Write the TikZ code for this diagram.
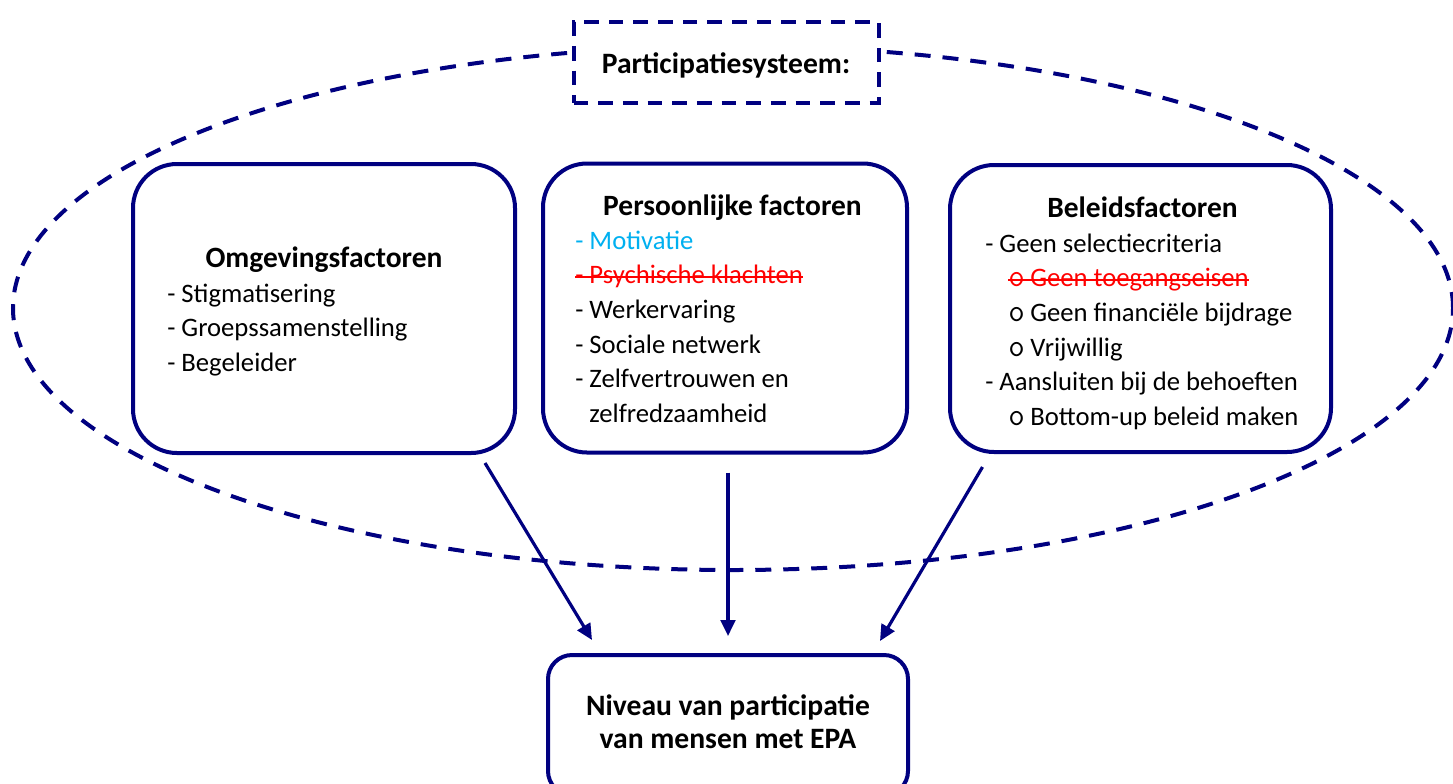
\documentclass[tikz,border=0pt]{standalone}
\usepackage{fontspec}
\setmainfont{Carlito}
\usetikzlibrary{arrows.meta,calc}
\definecolor{navy}{HTML}{000080}
\definecolor{motblue}{HTML}{00B0F0}
\definecolor{strikered}{HTML}{FF0000}
\newsavebox\strikebx
\newcommand\strikeout[1]{\sbox\strikebx{#1}\rlap{\usebox\strikebx}\raisebox{4.2pt}{\rule{\wd\strikebx}{1.3pt}}}
\newcommand\bul{\makebox[16.5pt][l]{{\fontsize{24}{26}\selectfont\ttfamily o}}}
\newcommand\sub{\hskip17.25pt}
\newcommand\itemlines[1]{\vtop{\baselineskip=26pt\lineskiplimit=-100pt #1}}
\begin{document}
\begin{tikzpicture}[x=0.75pt,y=-0.75pt,
  fbox/.style={draw=navy,line width=3pt,rounded corners=33pt,fill=white,inner sep=0pt},
  dbox/.style={draw=navy,line width=3pt,dash pattern=on 11pt off 7.5pt,fill=white,inner sep=0pt},
  ebox/.style={draw=navy,line width=3pt,rounded corners=18pt,fill=white,inner sep=0pt},
  ell/.style={draw=navy,line width=3pt,dash pattern=on 12pt off 9pt},
  arr/.style={draw=navy,line width=2.4pt,-{Triangle[length=12pt,width=11pt]}},
  body/.style={inner sep=0pt,anchor=base west,font=\fontsize{20}{26}\selectfont},
  title/.style={inner sep=0pt,anchor=base,font=\fontsize{22.1}{26}\selectfont\bfseries},
  big/.style={inner sep=0pt,anchor=base,font=\fontsize{22.2}{26}\selectfont\bfseries}]
\useasboundingbox (0,0) rectangle (1453,783);
\clip (0,0) rectangle (1453,783);
\fill[white] (0,0) rectangle (1453,783);
% outer dashed ellipse
\draw[ell] (733,308) ellipse [x radius=540pt, y radius=196.5pt];
% system label
\node[dbox,minimum width=228.75pt,minimum height=60.75pt] (sys) at (726,62) {};
\node[big] (systxt) at (726,73) {Participatiesysteem:};
% factor boxes
\node[fbox,minimum width=286.5pt,minimum height=216.75pt] (omg) at (324,308.5) {};
\node[fbox,minimum width=273pt,minimum height=216.75pt] (pers) at (725,308) {};
\node[fbox,minimum width=285.75pt,minimum height=215.25pt] (bel) at (1140.5,308.5) {};
% bottom box
\node[ebox,minimum width=270pt,minimum height=105pt] (epa) at (728,725) {};
% texts
\node[title] (omgt) at (324,267) {Omgevingsfactoren};
\node[body] (omgi) at (167,302) {\itemlines{%
  \hbox{- Stigmatisering}
  \hbox{- Groepssamenstelling}
  \hbox{- Begeleider}}};
\node[title] (perst) at (732.5,215) {Persoonlijke factoren};
\node[body] (persi) at (575,249) {\itemlines{%
  \hbox{\color{motblue}- Motivatie}
  \hbox{\color{strikered}\strikeout{- Psychische klachten}}
  \hbox{- Werkervaring}
  \hbox{- Sociale netwerk}
  \hbox{- Zelfvertrouwen en}
  \hbox{\phantom{- }zelfredzaamheid}}};
\node[title] (belt) at (1142.5,217) {Beleidsfactoren};
\node[body] (beli) at (985,252) {\itemlines{%
  \hbox{- Geen selectiecriteria}
  \hbox{\sub\color{strikered}\strikeout{\bul Geen toegangseisen}}
  \hbox{\sub\bul Geen financiële bijdrage}
  \hbox{\sub\bul Vrijwillig}
  \hbox{- Aansluiten bij de behoeften}
  \hbox{\sub\bul Bottom-up beleid maken}}};
\node[big] (epa1) at (728,715) {Niveau van participatie};
\node[big] (epa2) at (728,748) {van mensen met EPA};
% arrows
\draw[arr] ($(omg.south)+(161,8)$) -- ($(epa.north)+(-136,-13)$);
\draw[arr] ($(pers.south)+(3,18)$) -- ($(epa.north)+(0,-17)$);
\draw[arr] ($(bel.south)+(-158,13)$) -- ($(epa.north)+(152,-12)$);
\end{tikzpicture}
\end{document}
